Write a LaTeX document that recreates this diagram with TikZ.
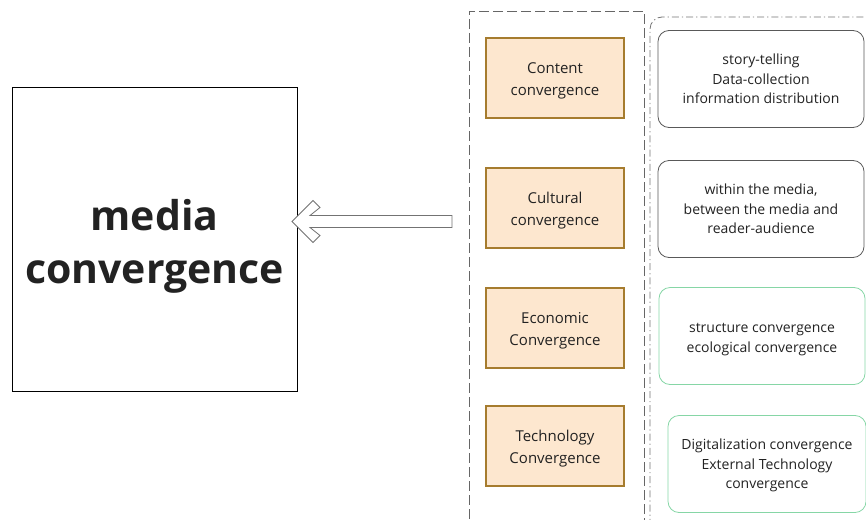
\documentclass[tikz,border=0pt]{standalone}
\usepackage{fontspec}
\setmainfont{Open Sans}
\usepackage{tikz}
\usetikzlibrary{calc}
\definecolor{convfill}{HTML}{FDE7CF}
\definecolor{convline}{HTML}{A67C2E}
\definecolor{greenline}{HTML}{86D6A6}
\definecolor{textgray}{HTML}{222222}
\tikzset{%
  text drop/.style={
    execute at begin node={\rule{0pt}{#1}}
  },
  conv box/.style={
    rectangle,
    draw=convline,
    fill=convfill,
    line width=1.8pt,
    minimum width=138,
    minimum height=80,
    align=center,
    font=\fontsize{15}{22}\selectfont,
    text=textgray,
    text drop=38.5pt
  },
  detail box/.style={
    rectangle,
    rounded corners=11pt,
    draw=black!65,
    line width=0.8pt,
    minimum width=206,
    minimum height=97,
    align=center,
    font=\fontsize{14}{19.5}\selectfont,
    text=textgray
  },
  detail green/.style={
    detail box,
    draw=greenline
  },
}

\begin{document}
\begin{tikzpicture}[x=1pt, y=-1pt]
\useasboundingbox (0,0) rectangle (866,519);
    % main box
    \node[draw, line width=0.6pt, minimum width=285, minimum height=304] (media) at (154.5,239) {};
    \node[align=center, font=\fontsize{41}{53}\selectfont\bfseries, text=textgray]
          (title) at (154.5,246) {media\\convergence};

    % groups
    \node[draw=black!60, dash pattern=on 10pt off 4pt, line width=0.8pt,
          minimum width=175, minimum height=524] (types) at (556.5,273) {};
    \draw[black!55, dash pattern=on 7pt off 3pt on 1.2pt off 3pt, line width=0.8pt, rounded corners=12pt]
          (650,540) -- (650,17) -- (890,17);

    % convergence types
    \foreach \y/\name/\txt in {78/content/{Content\\convergence},
                               208/cultural/{Cultural\\convergence},
                               328/economic/{Economic\\Convergence},
                               446/technology/{Technology\\Convergence}}
        \node[conv box] (\name) at (555,\y) {\txt};

    % details
    \node[detail box] (d_content) at (761,79) {story-telling\\Data-collection\\information distribution};
    \node[detail box] (d_cultural) at (761,209) {within the media,\\between the media and\\reader-audience};
    \node[detail green, text drop=35.5pt] (d_economic) at (762,336) {structure convergence\\ecological convergence};
    \node[detail green, text drop=52.5pt, minimum width=198] (d_technology) at (767,464) {Digitalization convergence\\External Technology\\convergence};

    % hollow arrow
    \coordinate (tip) at (292,221.5);
    \coordinate (tail) at (452,221.5);
    \draw[black!55, line width=0.8pt, fill=white, line join=miter]
        (tip) -- ++(21,-21) -- ++(7,7) -- ($(tip)+(18,-6)$) -- ($(tail)+(0,-6)$)
        -- ($(tail)+(0,6)$) -- ($(tip)+(18,6)$) -- ($(tip)+(28,14)$) -- ($(tip)+(21,21)$) -- cycle;
\end{tikzpicture}
\end{document}
